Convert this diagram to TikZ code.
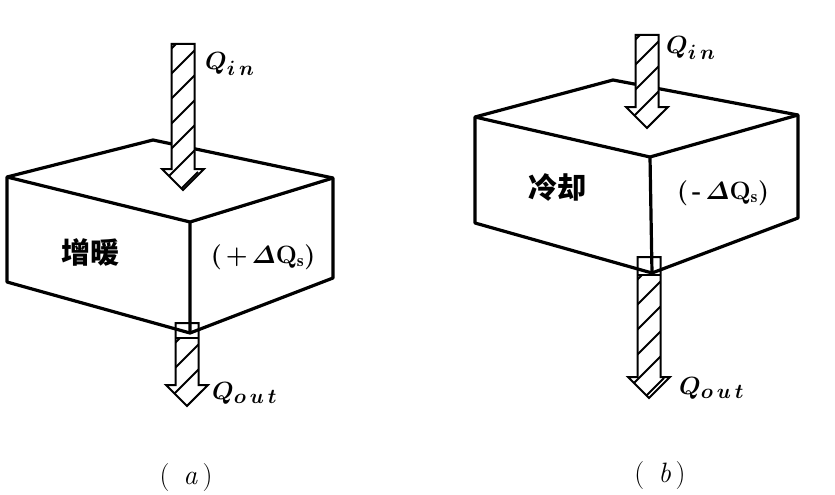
\documentclass[tikz,border=0pt]{standalone}
\usepackage{amsmath}
\usepackage{fontspec}
\newfontfamily\cjk{Noto Sans CJK SC}
\usetikzlibrary{calc}

% outline of a thick heat arrow from #1 (top of shaft) to #2 (tip)
\newcommand{\arrowoutline}[2]{($(#1)+(-11.5,0)$) -- ($(#2)+(-11.5,-21)$) -- ($(#2)+(-21,-21)$) -- (#2) -- ($(#2)+(21,-21)$) -- ($(#2)+(11.5,-21)$) -- ($(#1)+(11.5,0)$) -- cycle}
% #3 = where the hatching starts below the top of the shaft
\newcommand{\heatarrow}[3]{%
  \fill[white] \arrowoutline{#1}{#2};
  \begin{scope}
    \clip ($(#1)+(-30,#3)$) rectangle ($(#2)+(30,5)$);
    \clip \arrowoutline{#1}{#2};
    \foreach \k in {0,...,8}
      \draw[hatch] ($(#1)+(-15,#3+8+\k*25)$) -- ++(30,-30);
  \end{scope}
  \draw[arrowedge] \arrowoutline{#1}{#2};
}

\begin{document}
\begin{tikzpicture}[x=1pt,y=-1pt,
    boxedge/.style={line width=3.2pt,line join=round},
    arrowedge/.style={line width=2pt,line join=miter},
    hatch/.style={line width=1.8pt},
    qlabel/.style={anchor=west,inner sep=0pt,font=\fontsize{30}{34}\selectfont\boldmath},
    cjklabel/.style={font=\fontsize{29}{34}\selectfont\cjk\bfseries},
    dqlabel/.style={font=\fontsize{25}{30}\selectfont\bfseries\boldmath},
    caption/.style={font=\fontsize{28}{32}\selectfont}]
  \useasboundingbox (0,0) rectangle (835,495);

  % (a) corners of the box
  \coordinate (a-tl) at (7,177);
  \coordinate (a-back) at (153,140);
  \coordinate (a-tr) at (333,178);
  \coordinate (a-front) at (190,222);
  \coordinate (a-bl) at (7,282);
  \coordinate (a-bf) at (190,333);
  \coordinate (a-br) at (333,278);
  % (a) arrows
  \coordinate (ain-top) at (183,44);
  \coordinate (ain-tip) at (183,190);
  \coordinate (aout-top) at (187,323);
  \coordinate (aout-tip) at (187,406);

  \heatarrow{aout-top}{aout-tip}{15}
  \draw[arrowedge] ($(aout-top)+(-11.5,15)$) -- ($(aout-top)+(11.5,15)$);
  \draw[boxedge] (a-tl) -- (a-back) -- (a-tr) -- (a-br) -- (a-bf) -- (a-bl) -- cycle;
  \draw[boxedge] (a-tl) -- (a-front) -- (a-tr) (a-front) -- (a-bf);
  \heatarrow{ain-top}{ain-tip}{0}

  \node[qlabel] (qin-a) at (205,64) {$Q_{i\,n}$};
  \node[qlabel] (qout-a) at (212,393) {$Q_{o\,u\,t}$};
  \node[cjklabel] (heat-a) at (90,252) {增暖};
  \node[dqlabel] (dq-a) at (263,257) {(\,+\,$\boldsymbol{\varDelta}$Q$_{\mathrm{s}}$)};
  \node[caption] (cap-a) at (186,478) {(\enspace\textit{a}\,)};

  % (b) corners of the box
  \coordinate (b-tl) at (475,117);
  \coordinate (b-back) at (613,80);
  \coordinate (b-tr) at (798,115);
  \coordinate (b-front) at (650,157);
  \coordinate (b-bl) at (475,223);
  \coordinate (b-bf) at (652,273);
  \coordinate (b-br) at (798,218);
  % (b) arrows
  \coordinate (bin-top) at (647,35);
  \coordinate (bin-tip) at (647,128);
  \coordinate (bout-top) at (649,257);
  \coordinate (bout-tip) at (649,398);

  \heatarrow{bout-top}{bout-tip}{18}
  \draw[arrowedge] ($(bout-top)+(-11.5,18)$) -- ($(bout-top)+(11.5,18)$);
  \draw[boxedge] (b-tl) -- (b-back) -- (b-tr) -- (b-br) -- (b-bf) -- (b-bl) -- cycle;
  \draw[boxedge] (b-tl) -- (b-front) -- (b-tr) (b-front) -- (b-bf);
  \heatarrow{bin-top}{bin-tip}{0}

  \node[qlabel] (qin-b) at (666,48) {$Q_{i\,n}$};
  \node[qlabel] (qout-b) at (679,388) {$Q_{o\,u\,t}$};
  \node[cjklabel] (cool-b) at (557,187) {冷却};
  \node[dqlabel] (dq-b) at (723,193) {(\,-\,$\boldsymbol{\varDelta}$Q$_{\mathrm{s}}$)};
  \node[caption] (cap-b) at (660,476) {(\enspace\textit{b}\,)};
\end{tikzpicture}
\end{document}
